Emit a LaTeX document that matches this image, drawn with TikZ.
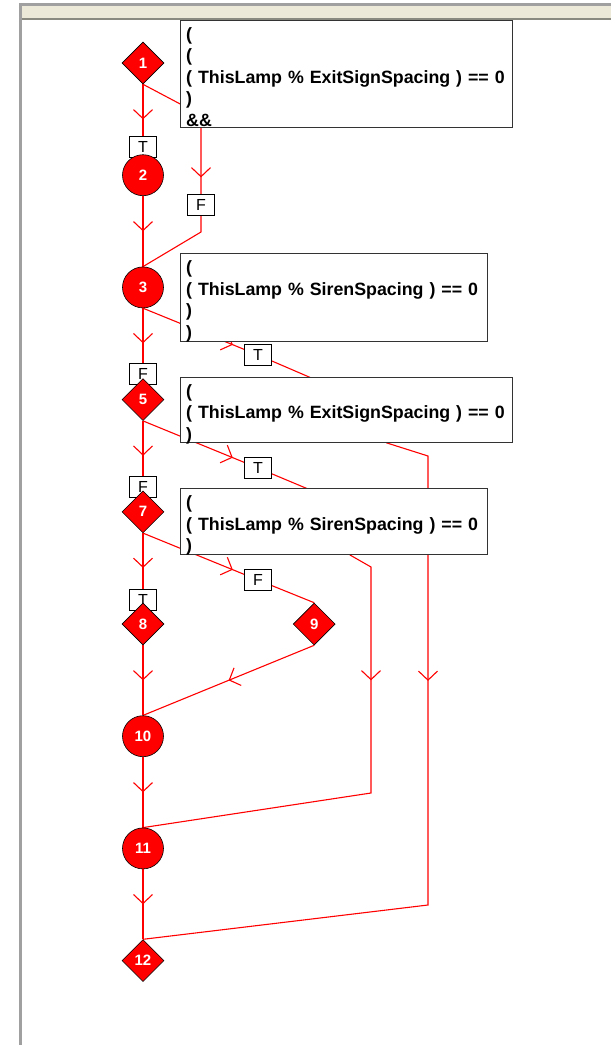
\documentclass[tikz,border=0pt]{standalone}
\usepackage{fontspec}
\setmainfont{Liberation Sans}
\usepackage{xcolor}
\usepackage{tikz}
\usetikzlibrary{shapes.geometric, arrows.meta, positioning, decorations.markings}
\pgfdeclarelayer{bg}
\pgfdeclarelayer{fg}
\pgfsetlayers{bg,main,fg}
\definecolor{barbeige}{HTML}{ECE9D8}
\definecolor{framegray}{HTML}{A0A0A0}
\definecolor{linegray}{HTML}{8A8A80}
\tikzset{arr/.style={postaction={decorate, decoration={markings, mark=at position #1 with {\arrow[red, line width=1.1pt]{Straight Barb[length=9pt, width=19pt]}}}}}, arr/.default=0.5}

\begin{document}
\begin{tikzpicture}[x=1pt, y=1pt, node distance=112.2pt]
    \tikzstyle{dec} = [diamond, draw=black, fill=red, text=white, font=\bfseries\fontsize{15}{16}\selectfont, minimum width=42pt, minimum height=42pt, inner sep=0pt, line width=0.6pt]
    \tikzstyle{act} = [circle, draw=black, fill=red, text=white, font=\bfseries\fontsize{15}{16}\selectfont, minimum size=41pt, inner sep=0pt, line width=0.6pt]
    \tikzstyle{cond} = [rectangle, draw=black!80, fill=white, anchor=north west, align=left, inner xsep=6pt, inner ysep=0pt, font=\bfseries\fontsize{17.8}{21.5}\selectfont]
    \tikzstyle{tf} = [rectangle, draw=black, fill=white, minimum width=27pt, minimum height=21pt, inner sep=0pt, font=\fontsize{16}{18}\selectfont]
    \tikzstyle{flow} = [draw=red, line width=1.1pt]
    \useasboundingbox (0,0) rectangle (611,-1045);

    % steps
    \begin{pgfonlayer}{fg}
    \node [dec] (n1) at (143,-63) {1};
    \node [act, below of=n1] (n2) {2};
    \node [act, below of=n2] (n3) {3};
    \node [dec, below of=n3] (n5) {5};
    \node [dec, below of=n5] (n7) {7};
    \node [dec, below of=n7] (n8) {8};
    \node [dec, right of=n8, xshift=59pt] (n9) {9};
    \node [act, below of=n8] (n10) {10};
    \node [act, below of=n10] (n11) {11};
    \node [dec, below of=n11] (n12) {12};
    \end{pgfonlayer}

    % conditions
    \node [cond, text width=320pt, minimum height=107pt, text depth=80pt] (c1) at (180,-20) {(\\(\\( ThisLamp \% ExitSignSpacing ) == 0\\)\\\&\&};
    \node [cond, text width=295pt, minimum height=88pt, text depth=60pt] (c2) at (180,-253) {(\\( ThisLamp \% SirenSpacing ) == 0\\)\\)};
    \node [cond, text width=320pt, minimum height=65pt, text depth=38pt] (c3) at (180,-377) {(\\( ThisLamp \% ExitSignSpacing ) == 0\\)};
    \node [cond, text width=295pt, minimum height=66pt, text depth=38pt] (c4) at (180,-488) {(\\( ThisLamp \% SirenSpacing ) == 0\\)};

    % T/F labels
    \node [tf] (l12) at (143,-147) {T};
    \node [tf] (l13) at (201,-205) {F};
    \node [tf] (l35) at (143,-374) {F};
    \node [tf] (l3t) at (258,-355) {T};
    \node [tf] (l57) at (143,-487) {F};
    \node [tf] (l5t) at (258,-468) {T};
    \node [tf] (l78) at (143,-600) {T};
    \node [tf] (l7f) at (258,-580) {F};

    \coordinate (a1) at (201,-115);
    \coordinate (a2) at (201,-232);
    \coordinate (b1) at (330,-386);
    \coordinate (b2) at (387,-443);
    \coordinate (b3) at (428,-456);
    \coordinate (b4) at (428,-905);
    \coordinate (d1) at (320,-494);
    \coordinate (d2) at (350,-555);
    \coordinate (d3) at (371,-567);
    \coordinate (d4) at (371,-793);

    \begin{pgfonlayer}{bg}
    \fill [white] (0,0) rectangle (611,-1045);
    \fill [framegray] (19,-3) rectangle (611,-6);
    \fill [barbeige] (22,-6) rectangle (611,-18);
    \fill [linegray] (22,-18) rectangle (611,-20);
    \fill [framegray] (19,-3) rectangle (22,-1045);

    \draw [flow, arr] (n1) -- (n2);
    \draw [flow, arr] (n2) -- (n3);
    \draw [flow, arr] (n3) -- (n5);
    \draw [flow, arr] (n5) -- (n7);
    \draw [flow, arr] (n7) -- (n8);
    \draw [flow, arr] (n8) -- (n10);
    \draw [flow, arr] (n10) -- (n11);
    \draw [flow, arr] (n11) -- (n12);
    \draw [flow, arr] (n9.south) -- (n10.north);
    \draw [flow, arr=128pt] (n1.south) -- (a1) -- (l13.center) -- (a2) -- (n3.north);
    \draw [flow, arr=97pt, arr=551pt] (n3.south) -- (l3t.center) -- (b1) -- (b2) -- (b3) -- (b4) -- (n12.north);
    \draw [flow, arr=97pt, arr=397pt] (n5.south) -- (l5t.center) -- (d1) -- (d2) -- (d3) -- (d4) -- (n11.north);
    \draw [flow, arr=97pt] (n7.south) -- (l7f.center) -- (n9.north);
    \end{pgfonlayer}
\end{tikzpicture}
\end{document}
